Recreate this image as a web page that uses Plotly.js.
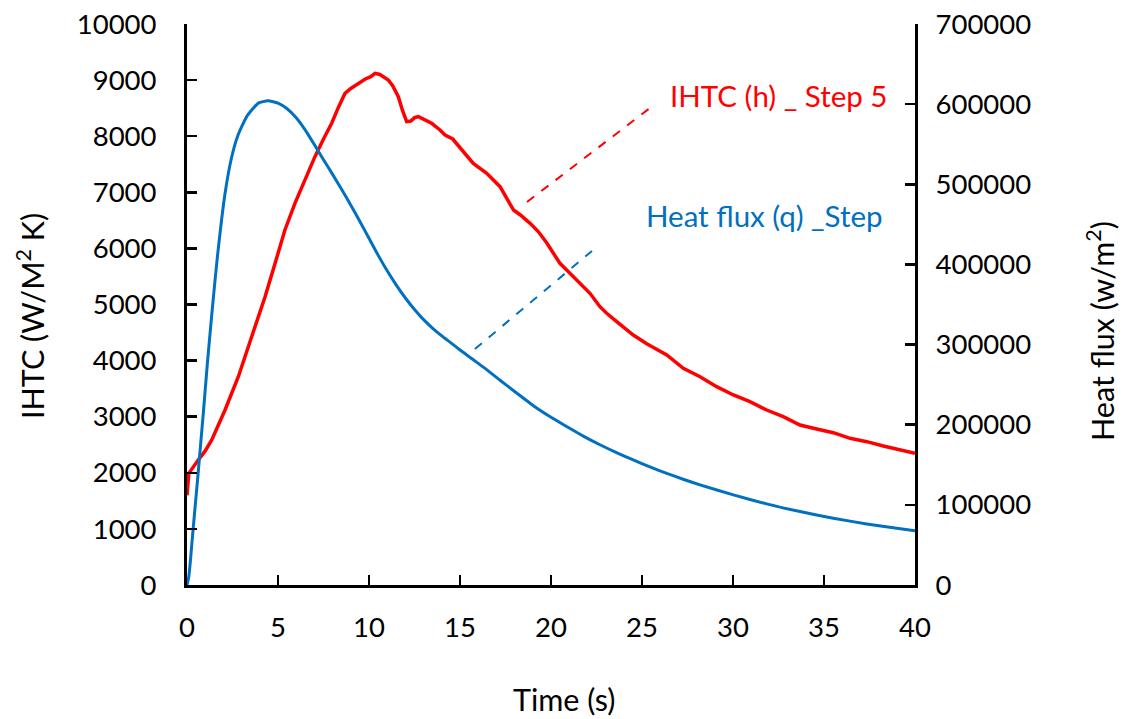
<!DOCTYPE html>
<html>
<head>
<meta charset="utf-8">
<script src="https://cdn.plot.ly/plotly-3.0.1.min.js"></script>
<style>html,body{margin:0;padding:0;background:#fff;}#chart{width:1125px;height:719px;}</style>
</head>
<body>
<div id="chart"></div>
<script>
// IHTC (h) _ Step 5  — left axis, W/M² K
const timeH = [0,0.05,0.1,0.62,1.0,1.36,1.7,2.09,2.82,3.55,4.29,4.84,5.38,5.93,6.48,7.03,7.5,7.95,8.3,8.68,9.0,9.41,9.8,10.1,10.33,10.6,11.06,11.3,11.61,11.85,12.07,12.3,12.5,12.71,13.0,13.44,13.9,14.18,14.6,15.05,15.73,16.47,17.2,17.94,18.3,18.85,19.3,19.76,19.95,20.49,20.86,21.23,21.78,22.14,22.69,23.06,23.61,24.16,24.52,25.26,26.36,27.27,28.19,29.1,30.02,30.93,31.85,32.76,33.68,34.6,35.51,36.43,37.35,38.26,39.18,40];
const ihtc  = [1600,1950,1990,2228,2390,2585,2820,3119,3713,4426,5139,5734,6328,6804,7219,7635,7950,8230,8500,8765,8850,8943,9020,9060,9120,9100,9002,8900,8705,8450,8259,8270,8330,8348,8300,8230,8111,8021,7950,7770,7516,7338,7100,6684,6600,6447,6300,6100,6000,5734,5615,5496,5318,5200,4961,4843,4694,4545,4456,4300,4100,3862,3713,3535,3387,3268,3119,3000,2852,2781,2715,2615,2555,2478,2406,2348];

// Heat flux (q) _Step — right axis, w/m²
const timeQ = [0,0.1,0.2,0.31,0.6,0.88,1.12,1.37,1.67,2.09,2.45,2.78,3.28,3.92,4.45,5.0,5.5,6.0,6.5,7.0,7.5,8.0,8.5,9.0,9.5,10.0,10.5,11.0,11.5,12.0,12.5,13.0,13.5,14.0,14.5,15.0,15.5,16.0,16.5,17.2,18.0,19.03,20.0,20.86,21.8,22.69,23.6,24.52,25.4,26.36,27.3,28.19,30.02,31.85,33.68,35.51,37.35,38.7,40];
const flux  = [0,10500,33600,63000,136500,210000,276500,339500,409500,488600,533400,560000,584500,601300,604100,601300,594300,583100,567700,549500,530600,512400,493500,473900,453600,432600,411600,392000,374200,358100,343700,331100,320300,310800,302100,293300,284900,276500,268100,255500,241500,223700,209300,197800,185500,175000,165200,156100,147700,139300,131600,124900,112400,101200,91600,83300,76200,71800,67800];

const xTicks = [0,5,10,15,20,25,30,35,40];
const labelH = 'IHTC (h) _ Step 5';
const labelQ = 'Heat flux (q) _Step';
const titleX = 'Time (s)';
const titleY = 'IHTC (W/M<sup>2</sup> K)';
const titleY2 = 'Heat flux (w/m<sup>2</sup>)';

const FONT = 'Lato, "Open Sans", sans-serif';
const RED = '#FF0000', BLUE = '#0070C0';

const traces = [
  {x: timeQ, y: flux, yaxis: 'y2', type: 'scatter', mode: 'lines', name: labelQ,
   line: {color: BLUE, width: 3, shape: 'spline', smoothing: 0.5}},
  {x: timeH, y: ihtc, yaxis: 'y', type: 'scatter', mode: 'lines', name: labelH,
   line: {color: RED, width: 3.5}}
];

const axisCommon = {
  showgrid: false, zeroline: false, showline: true, linecolor: '#000', linewidth: 3,
  ticks: 'inside', ticklen: 10, tickwidth: 2.5, tickcolor: '#000', tickformat: 'd',
  tickfont: {family: FONT, size: 27.5, color: '#000'}
};

const layout = {
  width: 1125, height: 719,
  margin: {l: 187, r: 210, t: 24, b: 134},
  paper_bgcolor: '#fff', plot_bgcolor: '#fff',
  showlegend: false,
  font: {family: FONT, color: '#000'},
  xaxis: Object.assign({}, axisCommon, {
    range: [0, 40], tickvals: xTicks, ticklabelstandoff: 16
  }),
  yaxis: Object.assign({}, axisCommon, {
    range: [0, 10000], dtick: 1000, ticklabelstandoff: 22
  }),
  yaxis2: Object.assign({}, axisCommon, {
    overlaying: 'y', side: 'right', range: [0, 700000], dtick: 100000, ticklabelstandoff: 12
  }),
  shapes: [
    {type: 'line', xref: 'x', yref: 'y', x0: 18.68, y0: 6827, x1: 25.44, y1: 8503,
     line: {color: RED, width: 2, dash: 'dash'}},
    {type: 'line', xref: 'x', yref: 'y', x0: 15.82, y0: 4207, x1: 22.25, y1: 5954,
     line: {color: BLUE, width: 2, dash: 'dash'}}
  ],
  annotations: [
    {xref: 'x', yref: 'y', x: 26.43, y: 8717, text: labelH, showarrow: false, xanchor: 'left', yanchor: 'middle',
     font: {family: FONT, size: 29.5, color: RED}},
    {xref: 'x', yref: 'y', x: 25.11, y: 6595, text: labelQ, showarrow: false, xanchor: 'left', yanchor: 'middle',
     font: {family: FONT, size: 29.5, color: BLUE}},
    {xref: 'paper', yref: 'paper', x: 0.519, y: -0.203, text: titleX, showarrow: false, xanchor: 'center', yanchor: 'middle',
     borderpad: 0, font: {family: FONT, size: 30.5, color: '#000'}},
    {xref: 'paper', yref: 'paper', x: -0.2157, y: 0.4795, text: titleY, showarrow: false, textangle: -90, xanchor: 'center', yanchor: 'middle',
     font: {family: FONT, size: 30.5, color: '#000'}},
    {xref: 'paper', yref: 'paper', x: 1.2541, y: 0.4528, text: titleY2, showarrow: false, textangle: -90, xanchor: 'center', yanchor: 'middle',
     font: {family: FONT, size: 30.5, color: '#000'}}
  ]
};

Plotly.newPlot('chart', traces, layout, {staticPlot: true, displayModeBar: false});
</script>
</body>
</html>
